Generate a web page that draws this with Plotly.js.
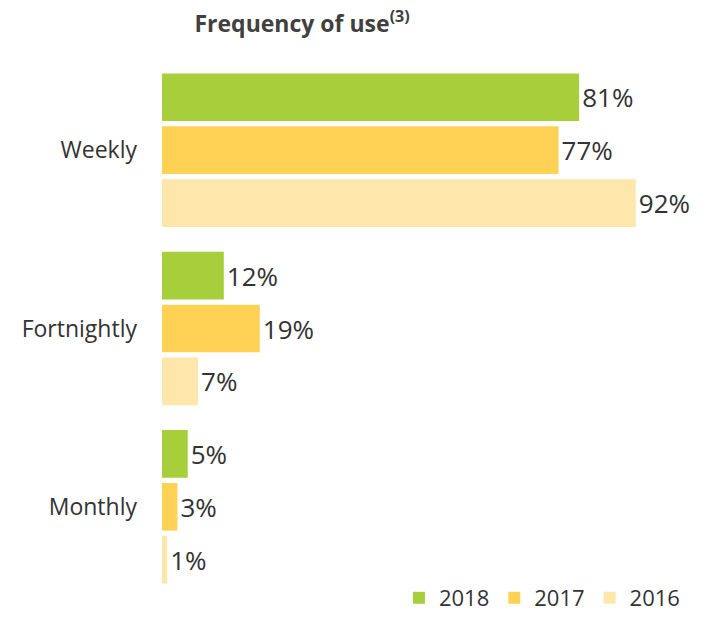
<!DOCTYPE html>
<html>
<head>
<meta charset="utf-8">
<script src="https://cdn.plot.ly/plotly-3.0.1.min.js"></script>
<style>html,body{margin:0;padding:0;background:#fff;}#chart{width:721px;height:620px;}</style>
</head>
<body>
<div id="chart"></div>
<script>
var categories = ["Weekly", "Fortnightly", "Monthly"];
var seriesNames = ["2018", "2017", "2016"];
var values2018 = [81, 12, 5];
var values2017 = [77, 19, 3];
var values2016 = [92, 7, 1];
var colors = ["#a7cf3b", "#ffd155", "#ffe6aa"];

var allValues = [values2018, values2017, values2016];
var traces = allValues.map(function (vals, i) {
  return {
    type: "bar",
    orientation: "h",
    name: seriesNames[i],
    y: categories,
    x: vals,
    marker: { color: colors[i] },
    text: vals.map(function (v) { return v + "%"; }),
    textposition: "outside",
    textfont: { family: "Open Sans, sans-serif", size: 26, color: "#333333" },
    cliponaxis: false,
    hoverinfo: "skip"
  };
});

var layout = {
  width: 721,
  height: 620,
  margin: { l: 162, r: 44, t: 61, b: 24, autoexpand: false },
  paper_bgcolor: "#ffffff",
  plot_bgcolor: "#ffffff",
  barmode: "group",
  bargap: 0.11,
  bargroupgap: 0.1,
  title: {
    text: "<b>Frequency of use<sup>(3)</sup></b>",
    font: { family: "Open Sans, sans-serif", size: 23, color: "#404040" },
    x: 0.419, xanchor: "center", xref: "container",
    y: 1 - 24 / 620, yanchor: "middle", yref: "container"
  },
  xaxis: {
    range: [0, 100],
    visible: false,
    showgrid: false,
    zeroline: false,
    fixedrange: true
  },
  yaxis: {
    autorange: "reversed",
    showline: false,
    showgrid: false,
    zeroline: false,
    ticks: "",
    ticklabelstandoff: 24,
    tickfont: { family: "Open Sans, sans-serif", size: 23, color: "#333333" }
  },
  showlegend: true,
  legend: {
    orientation: "h",
    xref: "container", yref: "container",
    x: 0.95, xanchor: "right",
    y: 22 / 620, yanchor: "middle",
    font: { family: "Open Sans, sans-serif", size: 22, color: "#333333" },
    itemwidth: 30,
    traceorder: "normal",
    bgcolor: "rgba(0,0,0,0)"
  },
  font: { family: "Open Sans, sans-serif" }
};

Plotly.newPlot("chart", traces, layout, { displayModeBar: false, staticPlot: true });
</script>
</body>
</html>
